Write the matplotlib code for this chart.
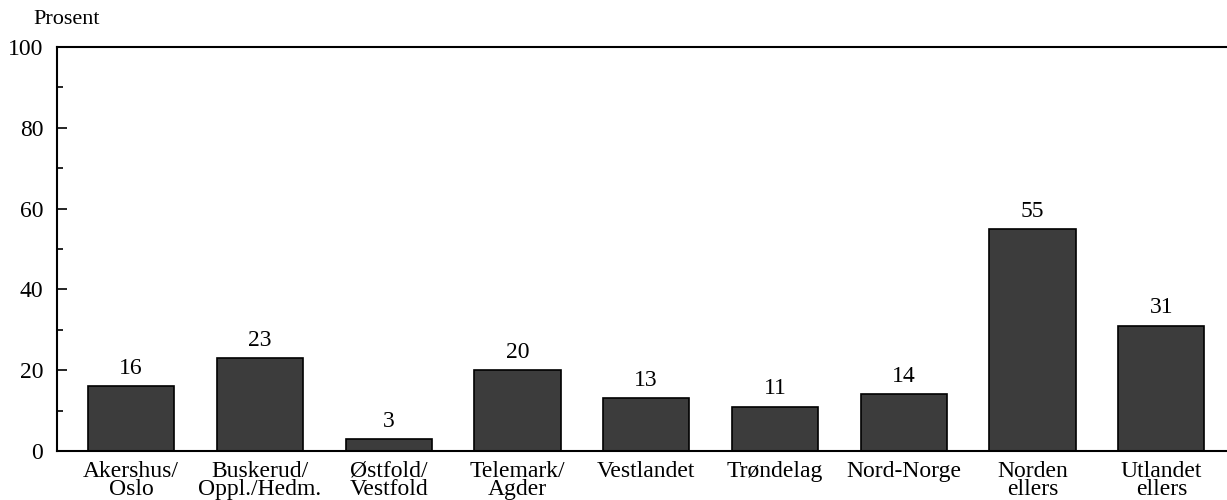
import matplotlib
matplotlib.use("Agg")
import matplotlib.pyplot as plt

regioner = ["Akershus/\nOslo", "Buskerud/\nOppl./Hedm.", "Østfold/\nVestfold",
            "Telemark/\nAgder", "Vestlandet", "Trøndelag", "Nord-Norge",
            "Norden\nellers", "Utlandet\nellers"]
prosent = [16, 23, 3, 20, 13, 11, 14, 55, 31]

plt.rcParams["font.family"] = ["Liberation Serif", "DejaVu Serif"]
plt.rcParams["font.size"] = 17

fig = plt.figure(figsize=(12.27, 5), dpi=100)
ax = fig.add_axes([0.0465, 0.098, 0.9535, 0.808])

x = list(range(len(regioner)))
ax.bar(x, prosent, width=0.67, color="#3c3c3c", edgecolor="black", linewidth=1.2)

for xi, v in zip(x, prosent):
    ax.text(xi, v + 1.8, str(v), ha="center", va="bottom", fontsize=17)

ax.set_xlim(-0.575, 8.51)
ax.set_ylim(0, 100)
ax.set_yticks([0, 20, 40, 60, 80, 100])
ax.set_yticks([10, 30, 50, 70, 90], minor=True)
ax.tick_params(axis="y", which="major", direction="in", length=7, width=1.2, pad=10, labelsize=17)
ax.tick_params(axis="y", which="minor", direction="in", length=4, width=1.2)
ax.set_xticks(x)
ax.set_xticklabels(regioner, linespacing=0.8)
ax.tick_params(axis="x", length=0, pad=7, labelsize=17)

for s in ["left", "bottom", "top"]:
    ax.spines[s].set_linewidth(1.5)
ax.spines["right"].set_visible(False)

fig.text(0.054, 0.96, "Prosent", ha="center", va="center", fontsize=16)

fig.savefig("out.png", dpi=100)
